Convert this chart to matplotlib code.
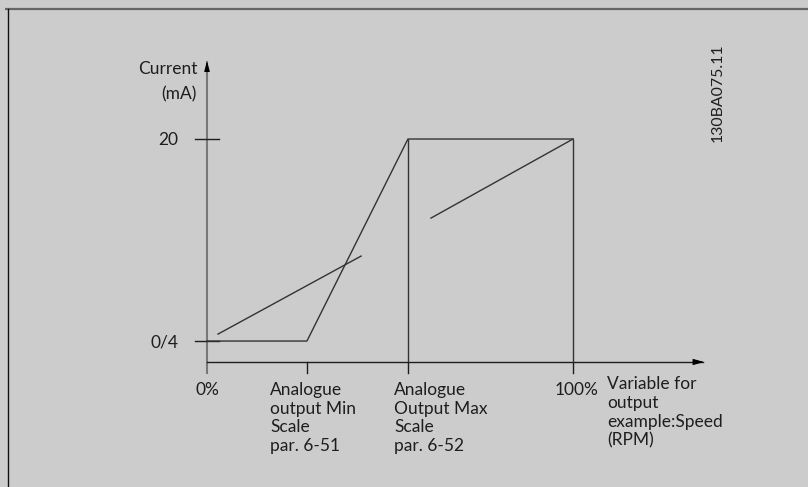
import matplotlib.pyplot as plt

# values
# x in % of the output variable, y in mA
min_scale_pct = 27.3
max_scale_pct = 54.9
full_pct = 100

curve_x = [0, min_scale_pct, max_scale_pct, full_pct]
curve_y = [4, 4, 20, 20]

slope1_x = [3.0, 42.1]
slope1_y = [4.55, 10.73]
slope2_x = [61.2, 100]
slope2_y = [13.74, 20]

y_ticks = [4, 20]
y_tick_labels = ['0/4', '20']
x_ticks = [0, min_scale_pct, max_scale_pct, full_pct]

axis_base = 2.34      # where the x axis sits
tick_end = 1.47       # lower end of the x ticks
x_tip = 136.6
y_tip = 26.4

bg = '#cccccc'
ink = '#1e1e1e'
font = 'Lato'

fig = plt.figure(figsize=(8.08, 4.87), dpi=100)
fig.set_facecolor(bg)
ax = fig.add_axes([0, 0, 1, 1])
ax.set_facecolor(bg)
ax.set_xlim(-56.56, 164.2)
ax.set_ylim(-7.56, 31.01)
ax.axis('off')

# frame of the drawing
ax.plot([0.0062, 1], [0.9805, 0.9805], transform=ax.transAxes, color='#666666', lw=1.6, solid_capstyle='butt')
ax.plot([0.0099, 0.0099], [0.9805, 0], transform=ax.transAxes, color='#111111', lw=1.0)

# axes
ax.plot([0, 0], [tick_end, y_tip - 0.3], color='#777777', lw=1.5, zorder=2)
ax.plot([0, x_tip - 1], [axis_base, axis_base], color=ink, lw=1.0, zorder=2)
ax.annotate('', xy=(0, y_tip), xytext=(0, y_tip - 0.9),
            arrowprops=dict(arrowstyle='-|>,head_length=0.6,head_width=0.16', color='black', lw=0.8))
ax.annotate('', xy=(x_tip, axis_base), xytext=(x_tip - 3, axis_base),
            arrowprops=dict(arrowstyle='-|>,head_length=0.65,head_width=0.18', color='black', lw=0.8))

# ticks
for yt in y_ticks:
    ax.plot([-3.28, 3.28], [yt, yt], color=ink, lw=1.0, zorder=3)
for xt in x_ticks[1:]:
    ax.plot([xt, xt], [axis_base, tick_end], color=ink, lw=1.0, zorder=3)

# output curve
ax.plot(curve_x, curve_y, color='#333333', lw=1.0, zorder=3)
ax.vlines([max_scale_pct, full_pct], axis_base, 20, color='#333333', lw=1.0, zorder=3)
ax.plot(slope1_x, slope1_y, color='#333333', lw=1.0, zorder=3)
ax.plot(slope2_x, slope2_y, color='#333333', lw=1.0, zorder=3)

# labels
fs = 12.5
ls = 1.2
ax.text(-2.73, 25.54, 'Current', ha='right', va='center', fontsize=fs, family=font, color=ink)
ax.text(-2.73, 23.56, '(mA)', ha='right', va='center', fontsize=fs, family=font, color=ink)
for yt, lab in zip(y_ticks, y_tick_labels):
    ax.text(-7.9, yt - 0.1, lab, ha='right', va='center', fontsize=fs, family=font, color=ink)

top_y = 0.75
ax.text(0, top_y, '0%', ha='center', va='top', fontsize=fs, family=font, color=ink)
ax.text(17.2, top_y, 'Analogue\noutput Min\nScale\npar. 6-51', ha='left', va='top',
        fontsize=fs, family=font, color=ink, linespacing=ls)
ax.text(51.1, top_y, 'Analogue\nOutput Max\nScale\npar. 6-52', ha='left', va='top',
        fontsize=fs, family=font, color=ink, linespacing=ls)
ax.text(95.1, top_y, '100%', ha='left', va='top', fontsize=fs, family=font, color=ink)
ax.text(109.3, top_y + 0.45, 'Variable for\noutput\nexample:Speed\n(RPM)', ha='left', va='top',
        fontsize=fs, family=font, color=ink, linespacing=ls)

ax.text(139.6, 23.64, '130BA075.11', rotation=90, ha='center', va='center',
        fontsize=11.4, family=font, color=ink)

plt.savefig('out.png', dpi=100, facecolor=bg)
